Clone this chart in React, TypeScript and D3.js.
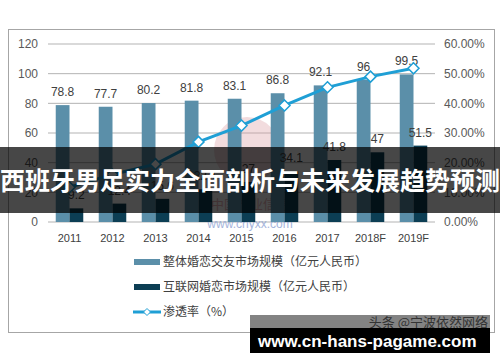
import React from 'react'
import * as d3 from 'd3'

const [W, H] = [500, 362]
const plot = { left: 48, right: 435, top: 44, bottom: 222 }

const years = ['2011', '2012', '2013', '2014', '2015', '2016', '2017', '2018F', '2019F']
const totalMarket = [78.8, 77.7, 80.2, 81.8, 83.1, 86.8, 92.1, 96, 99.5]
const onlineMarket = [9.2, 12.4, 15.6, 22.1, 27, 34.1, 41.8, 47, 51.5]
const penetration = [11.7, 16.0, 19.5, 27.0, 32.5, 39.3, 45.4, 49.0, 51.8]
const leftTicks = [0, 20, 40, 60, 80, 100, 120]
const rightTicks = [0, 10, 20, 30, 40, 50, 60]
const legendLabels = ['整体婚恋交友市场规模（亿元人民币）', '互联网婚恋市场规模（亿元人民币）', '渗透率（%）']
const title = '西班牙男足实力全面剖析与未来发展趋势预测'

const LIGHT = '#5b8fa9'
const DARK = '#0c3e54'
const LINE = '#1f9fd5'
const NUM_FONT = '"Liberation Sans", Arial, sans-serif'
const CJK_FONT = '"Noto Sans CJK SC", sans-serif'

function diamond(x: number, y: number, r: number) {
  return `M${x},${y - r}L${x + r},${y}L${x},${y + r}L${x - r},${y}Z`
}

export default function App() {
  const x = d3.scaleBand().domain(years).range([plot.left, plot.right])
  const bw = x.bandwidth()
  const x1 = d3.scaleBand().domain(['total', 'online']).range([bw * 0.18, bw * 0.82])
  const yL = d3.scaleLinear().domain([0, 120]).range([plot.bottom, plot.top])
  const yR = d3.scaleLinear().domain([0, 60]).range([plot.bottom, plot.top])

  const cx = (i: number) => (x(years[i]) as number) + bw / 2
  const linePath = d3.line<number>()
    .x((_, i) => cx(i))
    .y(d => yR(d))(penetration)

  return (
    <div style={{ position: 'absolute', left: 0, top: 0 }}>
      <svg width={W} height={H} style={{ display: 'block', background: '#fff' }}>
        {/* chart frame */}
        <rect x={8.5} y={29.5} width={486} height={303} fill="#fff" stroke="#a6a6a6" />

        {/* grid + left axis */}
        {leftTicks.map(t => (
          <g key={t}>
            <line x1={plot.left} x2={plot.right} y1={yL(t)} y2={yL(t)} stroke="#b3b3b3" strokeWidth={1} />
            <text x={38} y={yL(t)} dy="0.35em" textAnchor="end" fontFamily={NUM_FONT} fontSize={12} fill="#595959">{t}</text>
          </g>
        ))}
        {rightTicks.map(t => (
          <text key={t} x={444} y={yR(t)} dy="0.35em" fontFamily={NUM_FONT} fontSize={12} fill="#595959">{t.toFixed(2)}%</text>
        ))}

        {/* watermark logo */}
        <circle cx={247} cy={150} r={33} fill="#d99aa0" opacity={0.35} />
        <text x={250} y={209} textAnchor="middle" fontFamily={CJK_FONT} fontSize={13} fill="#d9868e" opacity={0.6}>中国产业信息</text>
        <text x={250} y={228} textAnchor="middle" fontFamily={NUM_FONT} fontSize={12} fill="#8ea3d4" opacity={0.8}>www.chyxx.com</text>

        {/* bars */}
        {years.map((yr, i) => {
          const bx = x(yr) as number
          const a = bx + (x1('total') as number)
          const b = bx + (x1('online') as number)
          const w = x1.bandwidth()
          return (
            <g key={yr}>
              <rect x={a} y={yL(totalMarket[i])} width={w} height={plot.bottom - yL(totalMarket[i])} fill={LIGHT} />
              <rect x={b} y={yL(onlineMarket[i])} width={w} height={plot.bottom - yL(onlineMarket[i])} fill={DARK} />
              <text x={a + w / 2} y={yL(totalMarket[i]) - 9} textAnchor="middle" fontFamily={NUM_FONT} fontSize={12} fill="#404040">{totalMarket[i]}</text>
              <text x={b + w / 2} y={yL(onlineMarket[i]) - 9} textAnchor="middle" fontFamily={NUM_FONT} fontSize={12} fill="#404040">{onlineMarket[i]}</text>
              <text x={cx(i)} y={242} textAnchor="middle" fontFamily={NUM_FONT} fontSize={11} fill="#404040">{yr}</text>
            </g>
          )
        })}

        {/* penetration line */}
        <path d={linePath as string} fill="none" stroke={LINE} strokeWidth={3} />
        {penetration.map((p, i) => (
          <path key={i} d={diamond(cx(i), yR(p), 5.5)} fill="#fff" stroke={LINE} strokeWidth={1.5} />
        ))}

        {/* legend */}
        <rect x={134} y={259} width={26} height={6} fill={LIGHT} />
        <text x={163} y={262} dy="0.35em" fontFamily={CJK_FONT} fontSize={12} fill="#404040">{legendLabels[0]}</text>
        <rect x={134} y={284} width={26} height={6} fill={DARK} />
        <text x={163} y={287} dy="0.35em" fontFamily={CJK_FONT} fontSize={12} fill="#404040">{legendLabels[1]}</text>
        <line x1={133} x2={161} y1={312} y2={312} stroke={LINE} strokeWidth={3} />
        <path d={diamond(147, 312, 3.5)} fill="#fff" stroke={LINE} strokeWidth={1} />
        <text x={163} y={312} dy="0.35em" fontFamily={CJK_FONT} fontSize={12} fill="#404040">{legendLabels[2]}</text>

        {/* title banner */}
        <rect x={0} y={147} width={W} height={66} fill="#000" opacity={0.72} />
        <text x={W / 2} y={181} dy="0.35em" textAnchor="middle" fontFamily={CJK_FONT} fontWeight={700} fontSize={25} fill="#fff">{title}</text>

        {/* bottom watermarks */}
        <rect x={250} y={315} width={240} height={14} fill="#5a5a5a" opacity={0.75} />
        <text x={488} y={322} dy="0.35em" textAnchor="end" fontFamily={CJK_FONT} fontSize={13} fill="#333">头条 @宁波依然网络</text>
        <rect x={250} y={328} width={240} height={25} fill="#000" />
        <text x={258} y={341} dy="0.35em" fontFamily={NUM_FONT} fontWeight={700} fontSize={17} fill="#fff">www.cn-hans-pagame.com</text>
      </svg>
    </div>
  )
}
